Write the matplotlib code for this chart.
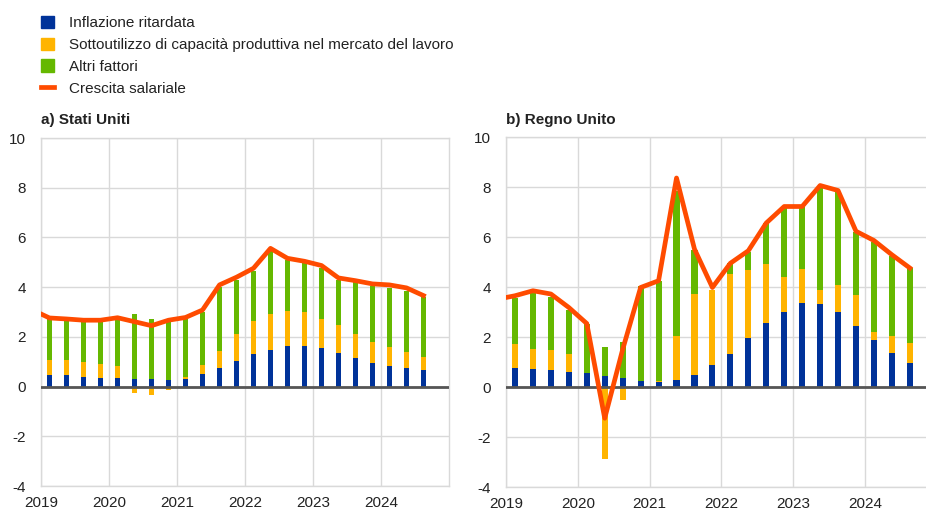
import matplotlib
matplotlib.use("Agg")
import matplotlib.pyplot as plt
from matplotlib.patches import Patch
from matplotlib.lines import Line2D
import numpy as np

plt.rcParams['font.family'] = ['Liberation Sans', 'DejaVu Sans']

quarters = ["2019Q1", "2019Q2", "2019Q3", "2019Q4", "2020Q1", "2020Q2", "2020Q3", "2020Q4",
            "2021Q1", "2021Q2", "2021Q3", "2021Q4", "2022Q1", "2022Q2", "2022Q3", "2022Q4",
            "2023Q1", "2023Q2", "2023Q3", "2023Q4", "2024Q1", "2024Q2", "2024Q3"]
line_quarters = ["2018Q4"] + quarters

labels = ["Inflazione ritardata",
          "Sottoutilizzo di capacità produttiva nel mercato del lavoro",
          "Altri fattori",
          "Crescita salariale"]

# United States
us_infl = [0.46, 0.46, 0.40, 0.35, 0.35, 0.30, 0.30, 0.26, 0.30, 0.50, 0.73, 1.02,
           1.33, 1.49, 1.64, 1.64, 1.55, 1.34, 1.13, 0.93, 0.82, 0.73, 0.66]
us_slack = [0.62, 0.62, 0.57, 0.56, 0.47, -0.27, -0.32, -0.12, 0.10, 0.36, 0.71, 1.09,
            1.30, 1.44, 1.40, 1.34, 1.18, 1.13, 0.99, 0.87, 0.77, 0.67, 0.52]
us_other = [1.64, 1.57, 1.63, 1.69, 1.90, 2.63, 2.42, 2.43, 2.38, 2.12, 2.55, 2.19,
            2.03, 2.52, 2.06, 2.02, 2.03, 1.83, 2.07, 2.26, 2.38, 2.43, 2.44]
us_wage = [3.08, 2.76, 2.72, 2.67, 2.67, 2.77, 2.61, 2.45, 2.67, 2.78, 3.08, 4.09, 4.40,
           4.76, 5.56, 5.16, 5.04, 4.87, 4.37, 4.26, 4.13, 4.09, 3.97, 3.66]

# United Kingdom
uk_infl = [0.75, 0.71, 0.67, 0.61, 0.56, 0.44, 0.35, 0.24, 0.20, 0.29, 0.50, 0.87,
           1.34, 1.95, 2.57, 3.02, 3.38, 3.33, 3.02, 2.45, 1.89, 1.38, 0.95]
uk_slack = [0.99, 0.81, 0.80, 0.73, 0.0, -2.86, -0.51, -0.09, 0.05, 1.76, 3.24, 3.01,
            3.18, 2.73, 2.35, 1.39, 1.34, 0.55, 1.07, 1.24, 0.32, 0.67, 0.83]
uk_other = [1.84, 2.24, 2.15, 1.75, 1.95, 1.18, 1.47, 3.81, 4.00, 5.81, 1.74, 0.0,
            0.43, 0.71, 1.64, 2.76, 2.50, 4.11, 3.70, 2.50, 3.58, 3.20, 2.97]
uk_wage = [3.51, 3.65, 3.85, 3.72, 3.18, 2.54, -1.25, 1.50, 3.98, 4.25, 8.36, 5.52, 3.98,
           4.95, 5.45, 6.56, 7.22, 7.22, 8.06, 7.86, 6.23, 5.86, 5.29, 4.76]

years = [2019, 2020, 2021, 2022, 2023, 2024]
yticks = [-4, -2, 0, 2, 4, 6, 8, 10]

C_BLUE = "#003299"
C_YEL = "#FFB400"
C_GREEN = "#65B800"
C_ORANGE = "#FF4B00"
C_GRID = "#d9d9d9"
C_TEXT = "#222222"
FS = 11


def qpos(q):
    return int(q[:4]) + (int(q[-1]) - 0.5) / 4.0


fig = plt.figure(figsize=(9.26, 5.11), dpi=100)

panels = [
    ("a) Stati Uniti", us_infl, us_slack, us_other, us_wage,
     [41 / 926, 1 - 486 / 511, (449 - 41) / 926, (486 - 138) / 511], 2025.0, True),
    ("b) Regno Unito", uk_infl, uk_slack, uk_other, uk_wage,
     [506 / 926, 1 - 487 / 511, (926 - 506) / 926, (487 - 137) / 511], 2024.85, False),
]

for title, infl, slack, other, wage, rect, xmax, right_spine in panels:
    ax = fig.add_axes(rect)
    x = np.array([qpos(q) for q in quarters])
    xl = np.array([qpos(q) for q in line_quarters])
    infl = np.array(infl)
    slack = np.array(slack)
    other = np.array(other)
    w = 0.085
    ax.bar(x, infl, width=w, color=C_BLUE, zorder=3)
    slack_bottom = np.where(slack >= 0, infl, 0)
    ax.bar(x, slack, width=w, bottom=slack_bottom, color=C_YEL, zorder=3)
    other_bottom = infl + np.where(slack >= 0, slack, 0)
    ax.bar(x, other, width=w, bottom=other_bottom, color=C_GREEN, zorder=3)
    ax.axhline(0, color="#555555", lw=2, zorder=4)
    ax.plot(xl, wage, color=C_ORANGE, lw=3.4, zorder=5, solid_joinstyle='round')
    ax.set_xlim(2019, xmax)
    ax.set_ylim(-4, 10)
    ax.set_xticks(years)
    ax.set_xticklabels([str(y) for y in years])
    ax.set_yticks(yticks)
    ax.set_yticklabels([str(v) for v in yticks])
    ax.grid(True, color=C_GRID, lw=1, zorder=0)
    ax.set_axisbelow(True)
    for s in ax.spines.values():
        s.set_color(C_GRID)
        s.set_linewidth(1)
    if not right_spine:
        ax.spines['right'].set_visible(False)
    ax.tick_params(length=0, labelsize=FS, colors=C_TEXT)
    ax.tick_params(axis='x', pad=7.5)
    ax.tick_params(axis='y', pad=11)
    fig.text(rect[0], 1 - 120 / 511, title, fontsize=FS, fontweight='bold',
             ha='left', va='center', color=C_TEXT)

handles = [Patch(color=C_BLUE), Patch(color=C_YEL), Patch(color=C_GREEN),
           Line2D([0], [0], color=C_ORANGE, lw=3.4)]
fig.legend(handles, labels, loc='upper left', bbox_to_anchor=(41 / 926, 1 - 16 / 511),
           frameon=False, fontsize=FS, handlelength=0.85, handleheight=0.85,
           handletextpad=1.0, labelspacing=0.48, borderaxespad=0, borderpad=0,
           labelcolor=C_TEXT)

fig.savefig("out.png", dpi=100)
